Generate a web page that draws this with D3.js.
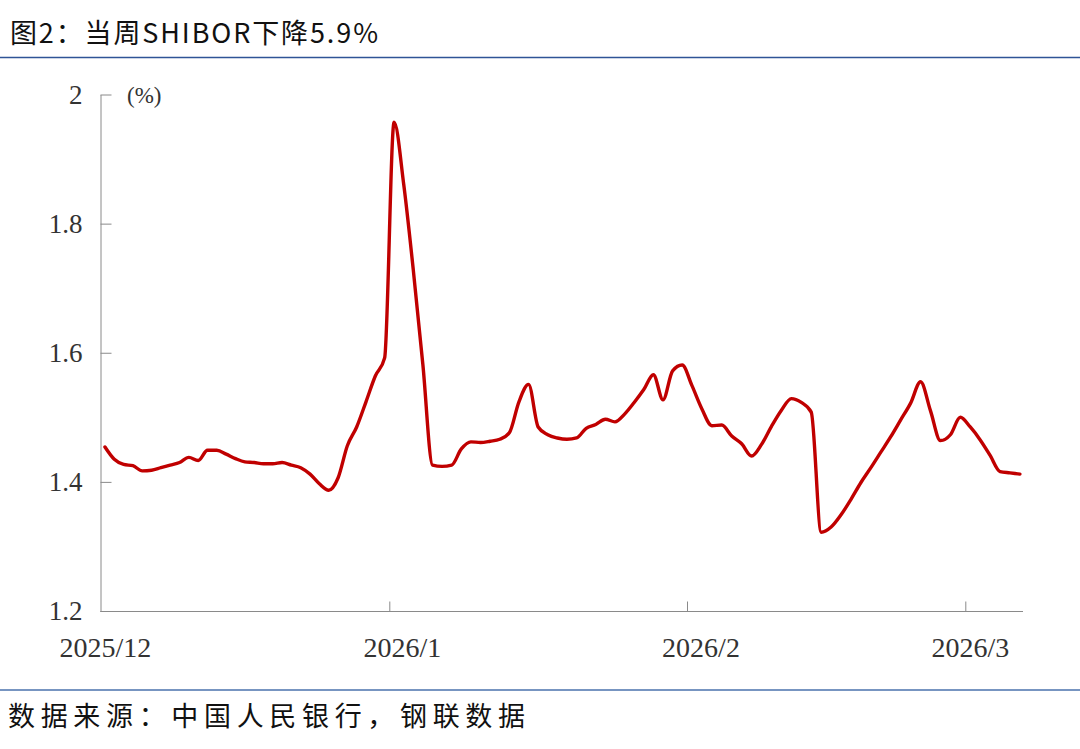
<!DOCTYPE html>
<html><head><meta charset="utf-8">
<script src="https://cdn.jsdelivr.net/npm/d3@7"></script>
<style>
html,body{margin:0;padding:0;background:#fff;}
svg{display:block;}
</style></head>
<body>
<script>
// ---- data (SHIBOR, %) ----
const titleText = "图2：当周SHIBOR下降5.9%";
const sourceText = "数据来源：中国人民银行，钢联数据";
const unitText = "(%)";
const yTicks = [1.2, 1.4, 1.6, 1.8, 2];
const xTickLabels = ["2025/12", "2026/1", "2026/2", "2026/3"];
const xTickDates = ["2025-12-01", "2026-01-01", "2026-02-01", "2026-03-01"];
const decValues = [1.454,1.435,1.427,1.425,1.417,1.418,1.422,1.426,1.430,1.438,1.433,1.449,1.449,1.443,1.436,1.431,1.430,1.428,1.428,1.430,1.426,1.422,1.412,1.397,1.387,1.406,1.456,1.485,1.524,1.564,1.592];
const janValues = [1.957,1.861,1.728,1.581,1.426,1.424,1.426,1.451,1.462,1.461,1.463,1.466,1.476,1.524,1.551,1.485,1.473,1.468,1.466,1.468,1.483,1.489,1.497,1.493,1.505,1.523,1.543,1.566,1.527,1.572,1.581];
const febValues = [1.549,1.513,1.487,1.488,1.471,1.459,1.440,1.458,1.486,1.511,1.529,1.523,1.508,1.322,1.330,1.349,1.373,1.399,1.422,1.446,1.470,1.496,1.522,1.555,1.510,1.464,1.473,1.500];
const marValues = [1.485,1.465,1.441,1.416,1.414,1.412];

// ---- build table ----
const parse = d3.utcParse("%Y-%m-%d");
const monthStarts = [parse("2025-12-01"), parse("2026-01-01"), parse("2026-02-01"), parse("2026-03-01")];
const monthSeries = [decValues, janValues, febValues, marValues];
const data = [];
monthSeries.forEach((vals, i) => {
  vals.forEach((v, j) => data.push({date: d3.utcDay.offset(monthStarts[i], j), value: v}));
});

const W = 1080, H = 749;
const svg = d3.select("body").append("svg").attr("width", W).attr("height", H);
svg.append("rect").attr("width", W).attr("height", H).attr("fill", "#fff");

// title + rules
svg.append("text").attr("x", 10).attr("y", 43)
  .attr("font-family", "'Noto Sans CJK SC', sans-serif").attr("font-size", 27)
  .attr("fill", "#111").attr("textLength", 368).attr("lengthAdjust", "spacing")
  .text(titleText);
svg.append("line").attr("x1", 0).attr("x2", W).attr("y1", 57.5).attr("y2", 57.5)
  .attr("stroke", "#2f5496").attr("stroke-width", 1.5);
svg.append("line").attr("x1", 0).attr("x2", W).attr("y1", 690).attr("y2", 690)
  .attr("stroke", "#4a72ad").attr("stroke-width", 1.5);
svg.append("text").attr("x", 8).attr("y", 726)
  .attr("font-family", "'Noto Sans CJK SC', sans-serif").attr("font-size", 27)
  .attr("fill", "#111").attr("textLength", 517).attr("lengthAdjust", "spacing")
  .text(sourceText);

// scales
const x = d3.scaleUtc()
  .domain([parse("2025-12-01"), parse("2026-01-01"), parse("2026-02-01"), parse("2026-03-01"), parse("2026-03-07")])
  .range([100.3, 389.3, 687, 965.3, 1024.9]);
const y = d3.scaleLinear().domain([1.2, 2]).range([611, 94.5]);

const serif = "'Liberation Serif', 'Times New Roman', serif";
const axisColor = "#8a8a8a";

// y axis
const gy = svg.append("g").attr("transform", "translate(100.5,0)")
  .call(d3.axisLeft(y).tickValues(yTicks).tickSizeInner(-11).tickSizeOuter(0).tickPadding(18)
    .tickFormat(d => d3.format("")(d)));
gy.select(".domain").attr("stroke", axisColor);
gy.selectAll(".tick line").attr("stroke", axisColor);
gy.selectAll(".tick text").attr("font-family", serif).attr("font-size", 27).attr("fill", "#333");

svg.append("text").attr("x", 127).attr("y", 103)
  .attr("font-family", serif).attr("font-size", 23).attr("fill", "#333").text(unitText);

// x axis
const tickDates = xTickDates.map(parse);
const gx = svg.append("g").attr("transform", "translate(0,611.5)")
  .call(d3.axisBottom(x).tickValues(tickDates.slice(1)).tickSizeInner(-10).tickSizeOuter(0).tickFormat(""));
gx.select(".domain").attr("stroke", axisColor).attr("d", "M100.3,0H1023");
gx.selectAll(".tick line").attr("stroke", axisColor);

const labelShift = [5, 13, 14, 5];
svg.append("g").selectAll("text").data(xTickLabels).join("text")
  .attr("x", (d, i) => x(tickDates[i]) + labelShift[i])
  .attr("y", 657)
  .attr("text-anchor", "middle")
  .attr("font-family", serif).attr("font-size", 28).attr("fill", "#333")
  .text(d => d);

// line (points plotted at mid-day)
const line = d3.line()
  .x(d => x(d3.utcHour.offset(d.date, 12)))
  .y(d => y(d.value))
  .curve(d3.curveMonotoneX);
svg.append("path").datum(data).attr("d", line)
  .attr("fill", "none").attr("stroke", "#c00000").attr("stroke-width", 3.4)
  .attr("stroke-linejoin", "round").attr("stroke-linecap", "round");
</script>
</body></html>
